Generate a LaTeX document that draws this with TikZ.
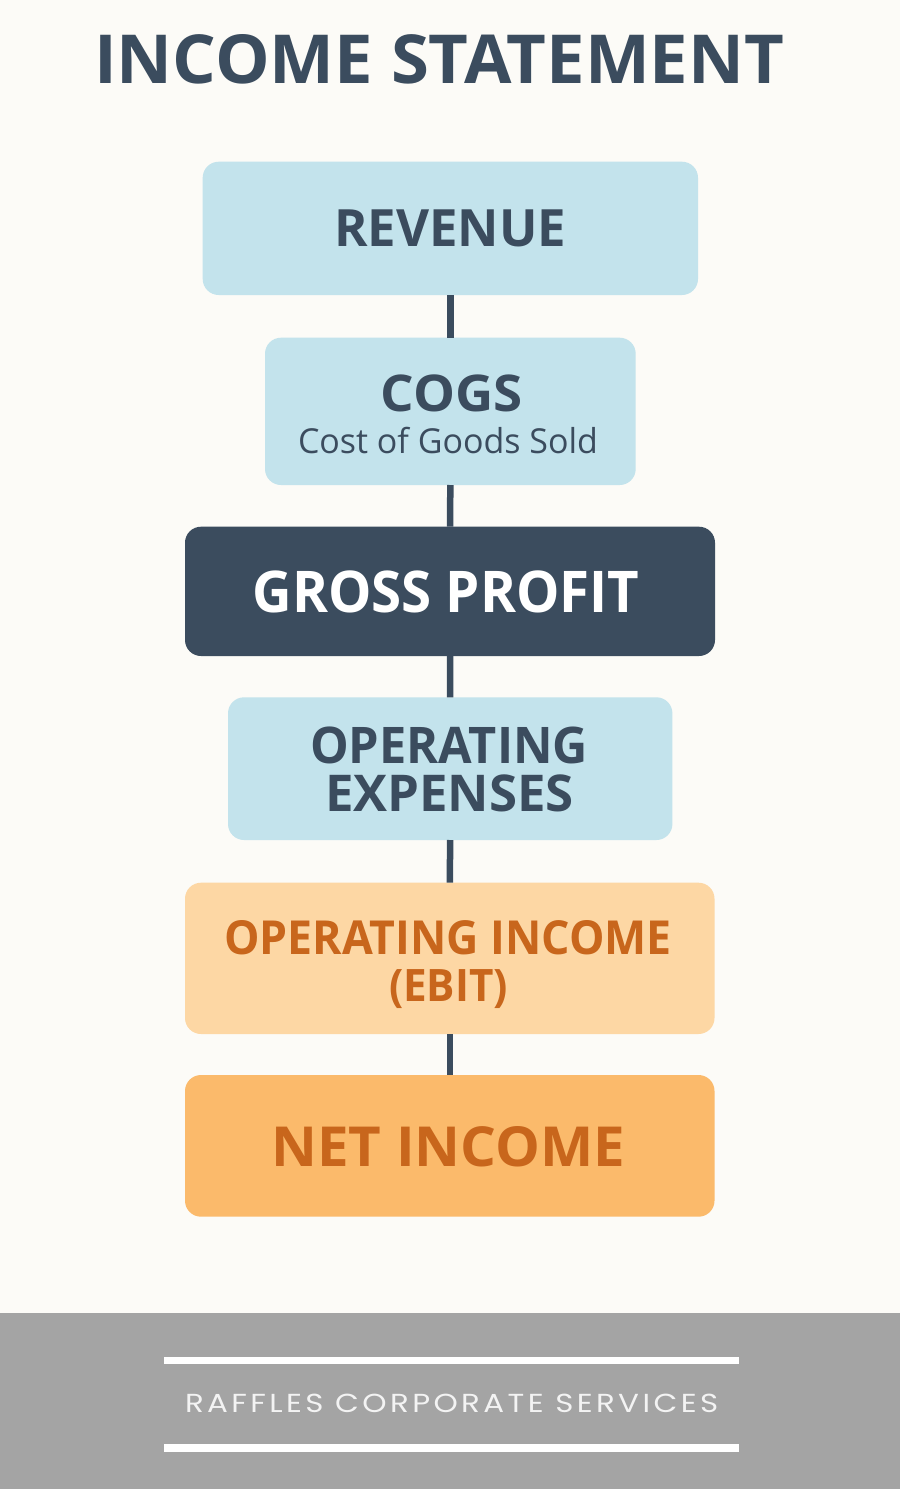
\documentclass[tikz,border=0pt]{standalone}
\usepackage{fontspec}
\usepackage{graphicx}
\setmainfont{Open Sans}
\newfontfamily\footfont[LetterSpace=11]{Poppins}
\definecolor{bg}{HTML}{FCFBF7}
\definecolor{navy}{HTML}{3B4C5E}
\definecolor{lblue}{HTML}{C3E3EC}
\definecolor{peach}{HTML}{FDD7A4}
\definecolor{orangebox}{HTML}{FBBA6B}
\definecolor{orangetxt}{HTML}{C8661C}
\definecolor{footgray}{HTML}{A4A4A4}
\definecolor{foottxt}{HTML}{F3F3F3}
\newcommand{\fitbox}[3]{\resizebox{#1pt}{#2pt}{#3}}
\newcommand{\fitboxtot}[3]{\resizebox*{#1pt}{#2pt}{#3}}
\begin{document}
\begin{tikzpicture}[x=1pt,y=-1pt,
  box/.style={rounded corners=16pt, inner sep=0pt, outer sep=0pt},
  bluebox/.style={box, fill=lblue},
  txt/.style={inner sep=0pt, outer sep=0pt, anchor=north west, font=\bfseries},
  link/.style={line width=6.5pt, draw=navy}]
\fill[bg] (0,0) rectangle (900,1489);
\useasboundingbox (0,0) rectangle (900,1489);
\fill[footgray] (0,1313) rectangle (900,1489);

% title
\node[txt, text=navy] (title) at (94,34) {\fitbox{690}{49}{INCOME STATEMENT}};

% boxes
\node[bluebox, minimum width=495.3pt, minimum height=133.3pt] (rev) at (450.35,228.35) {};
\node[bluebox, minimum width=370.7pt, minimum height=147.3pt] (cogs) at (450.35,411.35) {};
\node[box, fill=navy, minimum width=530pt, minimum height=129.3pt] (gross) at (450,591.35) {};
\node[bluebox, minimum width=444.4pt, minimum height=142.7pt] (opex) at (450.2,768.65) {};
\node[box, fill=peach, minimum width=529.5pt, minimum height=151.3pt] (opinc) at (449.75,958.35) {};
\node[box, fill=orangebox, minimum width=529.5pt, minimum height=141.7pt] (net) at (449.75,1145.85) {};

% connectors
\draw[link] (rev.south) -- (cogs.north);
\draw[link] (cogs.south) -- (gross.north);
\draw[link] (gross.south) -- (opex.north);
\draw[link] (opex.south) -- (opinc.north);
\draw[link] (opinc.south) -- (net.north);

% texts
\node[txt, text=navy] (revT) at (334,210) {\fitbox{232}{36.7}{REVENUE}};
\node[txt, text=navy] (cogsT) at (380.5,375) {\fitbox{142}{36.7}{COGS}};
\node[txt, text=navy, font=\mdseries] (cogsS) at (298,426.7) {\fitbox{300}{26.3}{Cost of Goods Sold}};
\node[txt, text=white] (grossT) at (252.5,571) {\fitbox{387}{41.7}{GROSS PROFIT}};
\node[txt, text=navy] (opexA) at (310,726.7) {\fitbox{278}{36.6}{OPERATING}};
\node[txt, text=navy] (opexB) at (325,775) {\fitbox{249}{36.7}{EXPENSES}};
\node[txt, text=orangetxt] (opincA) at (224,920) {\fitbox{448}{34}{OPERATING INCOME}};
\node[txt, text=orangetxt] (opincB) at (389,970) {\fitboxtot{119}{39}{(EBIT)}};
\node[txt, text=orangetxt] (netT) at (271.5,1126.7) {\fitbox{354}{40}{NET INCOME}};

% footer
\fill[white] (164,1357.3) rectangle (738.5,1364.3);
\fill[white] (164,1444.3) rectangle (738.5,1451.7);
\node[txt, text=foottxt, font=\footfont] (foot) at (185,1394.3) {\fitbox{533}{18.4}{RAFFLES CORPORATE SERVICES}};
\end{tikzpicture}
\end{document}
